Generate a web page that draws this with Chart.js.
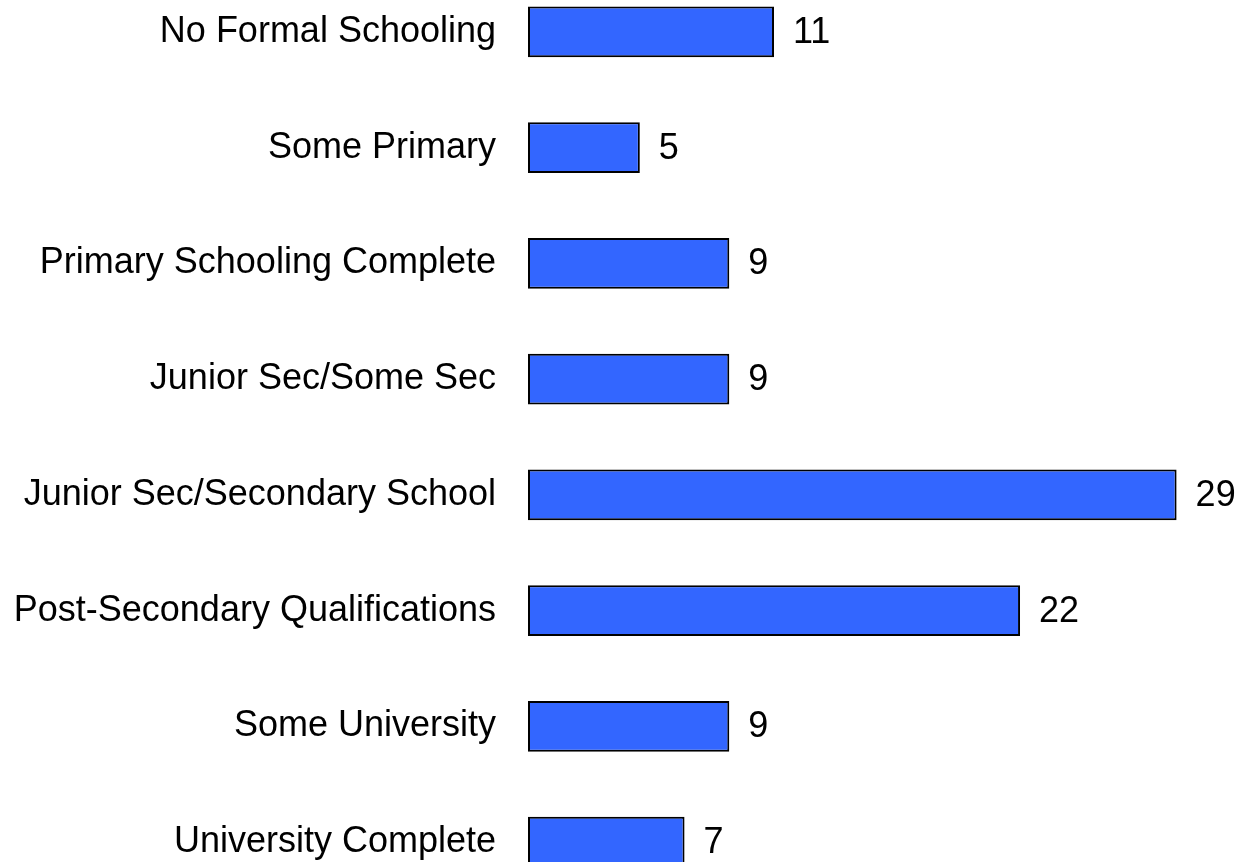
<!DOCTYPE html>
<html>
<head>
<meta charset="utf-8">
<script src="https://cdn.jsdelivr.net/npm/chart.js@4/dist/chart.umd.min.js"></script>
<style>
  html, body { margin: 0; padding: 0; background: #fff; overflow: hidden; width: 1237px; height: 862px; }
  #wrap { position: absolute; left: 0; top: -26px; width: 1237px; height: 926px; }
</style>
</head>
<body>
<div id="wrap"><canvas id="c" width="1237" height="926"></canvas></div>
<script>
const categories = [
  "No Formal Schooling",
  "Some Primary",
  "Primary Schooling Complete",
  "Junior Sec/Some Sec",
  "Junior Sec/Secondary School",
  "Post-Secondary Qualifications",
  "Some University",
  "University Complete"
];
const values = [11, 5, 9, 9, 29, 22, 9, 7];

const FONT = "'Liberation Sans', Arial, sans-serif";
const FONT_SIZE = 36;

const valueLabels = {
  id: 'valueLabels',
  afterDatasetsDraw(chart) {
    const ctx = chart.ctx;
    const meta = chart.getDatasetMeta(0);
    ctx.save();
    ctx.font = FONT_SIZE + "px " + FONT;
    ctx.fillStyle = '#000';
    ctx.textAlign = 'left';
    ctx.textBaseline = 'middle';
    meta.data.forEach((bar, i) => {
      ctx.fillText(String(values[i]), bar.x + 19, bar.y + 1);
    });
    ctx.restore();
  }
};

new Chart(document.getElementById('c'), {
  type: 'bar',
  data: {
    labels: categories,
    datasets: [{
      data: values,
      backgroundColor: '#3366FF',
      borderColor: '#000000',
      borderWidth: 2,
      borderSkipped: false,
      barPercentage: 0.44,
      categoryPercentage: 1.0
    }]
  },
  options: {
    indexAxis: 'y',
    responsive: false,
    animation: false,
    events: [],
    layout: { padding: 0 },
    plugins: { legend: { display: false }, tooltip: { enabled: false } },
    scales: {
      x: {
        display: false,
        min: 0,
        max: 31.7
      },
      y: {
        offset: true,
        grid: { display: false, drawTicks: false },
        border: { display: false },
        afterFit(scale) {
          scale.width = 528;
          scale.paddingTop = 0;
          scale.paddingBottom = 0;
        },
        ticks: {
          color: '#000',
          padding: 32,
          font: { family: FONT, size: FONT_SIZE }
        }
      }
    }
  },
  plugins: [valueLabels]
});
</script>
</body>
</html>
